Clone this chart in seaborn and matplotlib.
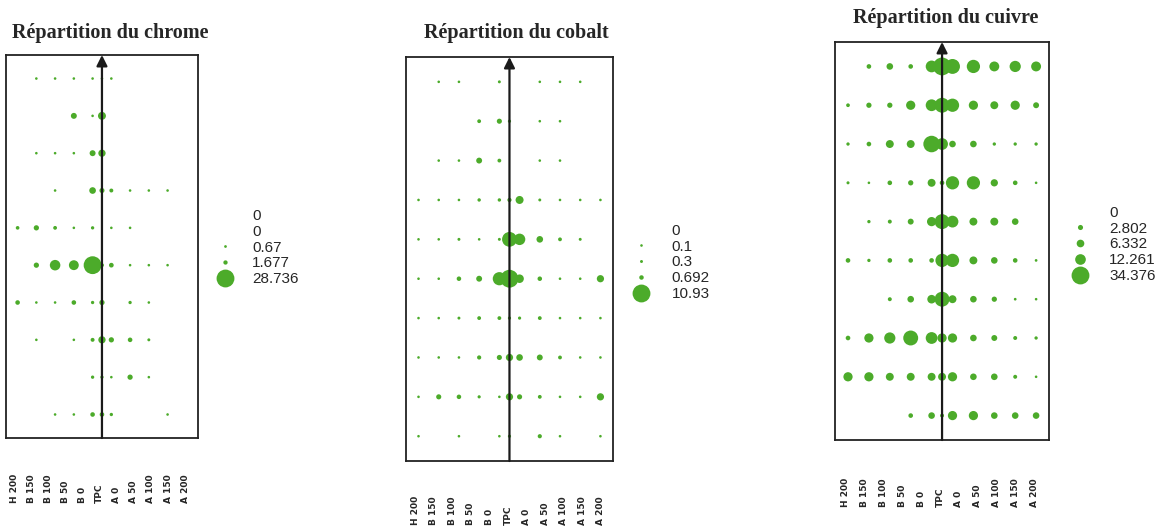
import numpy as np
import pandas as pd
import seaborn as sns
import matplotlib.pyplot as plt
from matplotlib.lines import Line2D

sns.set_style("white")
plt.rcParams["font.family"] = ["Liberation Sans", "DejaVu Sans"]

# Data (rows top -> bottom, columns H 200 ... A 200)
labels = ["H 200", "B 150", "B 100", "B 50", "B 0", "TPC", "A 0", "A 50", "A 100", "A 150", "A 200"]
xpos = [-4.5, -3.5, -2.5, -1.5, -0.5, 0, 0.5, 1.5, 2.5, 3.5, 4.5]
rows = list(range(1, 11))

chrome = [
    [0, 0.1, 0.1, 0.2, 0.6, 0.3, 0.3, 0, 0, 0, 0],
    [0, 0, 0, 3.2, 0.3, 5.7, 0, 0, 0, 0, 0],
    [0, 0.1, 0.4, 0.6, 3.2, 4.8, 0, 0, 0, 0, 0],
    [0, 0, 0.1, 0, 4.0, 2.3, 1.4, 0.35, 0.2, 0.2, 0],
    [1.2, 2.5, 1.3, 0.6, 1.0, 0, 0.6, 0.6, 0, 0, 0],
    [0, 2.5, 10.0, 8.8, 28.736, 1.4, 2.0, 0.3, 0.15, 0.15, 0],
    [1.9, 0.6, 0.3, 1.9, 1.0, 2.5, 0, 1.0, 0.6, 0, 0],
    [0, 0.4, 0, 0.4, 1.4, 4.8, 2.5, 1.9, 0.8, 0, 0],
    [0, 0, 0, 0, 1.0, 1.0, 0.2, 2.5, 0.3, 0, 0],
    [0, 0, 0.5, 0.5, 1.9, 1.9, 1.0, 0, 0, 0.6, 0],
]
cobalt = [
    [0, 0.1, 0.1, 0, 0.3, 0, 0, 0.1, 0.1, 0.1, 0],
    [0, 0, 0, 0.5, 0.9, 0.35, 0, 0.2, 0.1, 0, 0],
    [0, 0.2, 0.1, 1.2, 0.5, 0, 0, 0.1, 0.1, 0, 0],
    [0.05, 0.05, 0.05, 0.4, 0.4, 0.6, 2.2, 0.3, 0.2, 0.1, 0.2],
    [0.05, 0.2, 0.3, 0.1, 0.3, 7.5, 4.5, 1.5, 0.5, 0.3, 0],
    [0.05, 0.05, 0.7, 1.2, 6.0, 10.93, 2.5, 0.7, 0.2, 0.1, 1.8],
    [0.05, 0.2, 0.3, 0.5, 0.5, 0.35, 0.35, 0.5, 0.2, 0.1, 0.1],
    [0.05, 0.05, 0.05, 0.6, 0.9, 1.8, 1.5, 1.2, 0.5, 0.1, 0.1],
    [0.2, 0.9, 0.7, 0.35, 0.1, 1.8, 0.9, 0.5, 0.15, 0.1, 1.8],
    [0.05, 0, 0.1, 0, 0.2, 0.35, 0, 0.6, 0.2, 0, 0.1],
]
cuivre = [
    [0, 2.3, 4.7, 2.3, 15.0, 34.376, 24.0, 19.0, 10.6, 13.6, 10.6],
    [1.5, 3.0, 3.0, 9.2, 15.0, 24.0, 19.0, 9.2, 6.8, 9.2, 3.8],
    [1.2, 2.3, 6.8, 6.8, 29.5, 15.0, 4.7, 4.7, 1.2, 1.2, 1.2],
    [1.0, 0.5, 2.3, 3.0, 6.8, 2.3, 19.0, 19.0, 5.7, 2.3, 0.4],
    [0, 1.2, 1.7, 3.8, 9.2, 24.0, 15.0, 6.8, 6.8, 4.7, 0],
    [2.3, 1.2, 2.3, 2.3, 2.3, 19.0, 19.0, 6.8, 4.7, 2.3, 0.8],
    [0, 0, 1.7, 4.7, 8.0, 24.0, 6.8, 4.7, 3.0, 0.8, 0.4],
    [2.3, 9.2, 13.6, 24.0, 15.0, 9.2, 9.2, 4.7, 3.8, 1.7, 1.2],
    [9.2, 9.2, 6.8, 6.8, 6.8, 6.8, 9.2, 4.7, 4.7, 1.7, 0.4],
    [0, 0, 0, 2.3, 4.7, 1.7, 9.2, 9.2, 4.7, 4.7, 4.7],
]

legend_chrome = [0, 0, 0.67, 1.677, 28.736]
legend_cobalt = [0, 0.1, 0.3, 0.692, 10.93]
legend_cuivre = [0, 2.802, 6.332, 12.261, 34.376]

GREEN = "#4cab2a"
SMAX = 165
SMIN = 3.5


def size_of(v, vmax):
    return max(v / vmax * SMAX, SMIN) if v > 0 else 0


# title, grid, legend values, box rect, label strip rect, title pos, legend pos, text pad
panels = [
    ("Répartition du chrome", chrome, legend_chrome,
     [0.0051, 0.172, 0.1638, 0.724], [0.0047, 0.049, 0.1606, 0.08],
     (0.0939, 0.9376), (0.1855, 0.532), 1.26),
    ("Répartition du cobalt", cobalt, legend_cobalt,
     [0.3464, 0.1285, 0.1766, 0.7637], [0.3462, 0.0076, 0.1745, 0.08],
     (0.4403, 0.9376), (0.5405, 0.504), 1.5),
    ("Répartition du cuivre", cuivre, legend_cuivre,
     [0.7125, 0.1682, 0.1826, 0.7524], [0.7129, 0.0416, 0.1783, 0.08],
     (0.8072, 0.966), (0.9150, 0.538), 1.4),
]

fig = plt.figure(figsize=(11.72, 5.29), dpi=100)

for title, grid, leg_vals, box, strip, tpos, lpos, tpad in panels:
    vmax = max(leg_vals)
    df = pd.DataFrame(
        [(xpos[j], rows[i], grid[i][j]) for i in range(10) for j in range(11)],
        columns=["x", "row", "val"],
    )
    df = df[df["val"] > 0]
    df["s"] = [size_of(v, vmax) for v in df["val"]]

    ax = fig.add_axes(box)
    sns.scatterplot(data=df, x="x", y="row", s=df["s"], color=GREEN,
                    edgecolor="none", linewidth=0, legend=False, ax=ax)
    ax.set_xlim(-5.12, 5.12)
    ax.set_ylim(10.63, 0.37)
    ax.set_xticks([])
    ax.set_yticks([])
    ax.set_xlabel("")
    ax.set_ylabel("")
    for sp in ax.spines.values():
        sp.set_color("#222222")
        sp.set_linewidth(1.3)
    # vertical arrow at TPC
    ax.annotate("", xy=(0, 0.37), xytext=(0, 10.63),
                arrowprops=dict(arrowstyle="-|>", color="#1a1a1a", lw=1.6,
                                mutation_scale=16, shrinkA=0, shrinkB=0))

    # tick label strip under the box
    sax = fig.add_axes(strip)
    sax.set_xlim(-0.5, 10.5)
    sax.set_ylim(0, 1)
    sax.axis("off")
    for i, lab in enumerate(labels):
        sax.text(i, 0, lab, rotation=90, ha="center", va="bottom",
                 fontsize=6.5, fontweight="bold", family=["DejaVu Sans"])

    fig.text(tpos[0], tpos[1], title, ha="center", va="center",
             fontsize=14.5, fontweight="bold", family=["Liberation Serif"])

    handles = [Line2D([], [], marker="o", linestyle="", color=GREEN,
                      markeredgewidth=0,
                      markersize=np.sqrt(size_of(v, vmax)))
               for v in leg_vals]
    ax.legend(handles, [f"{v:g}" for v in leg_vals], loc="center left",
              bbox_to_anchor=lpos, bbox_transform=fig.transFigure,
              frameon=False, fontsize=11, labelspacing=0.12,
              handlelength=1.0, handletextpad=tpad, borderpad=0,
              borderaxespad=0)

fig.savefig("out.png", dpi=100)
